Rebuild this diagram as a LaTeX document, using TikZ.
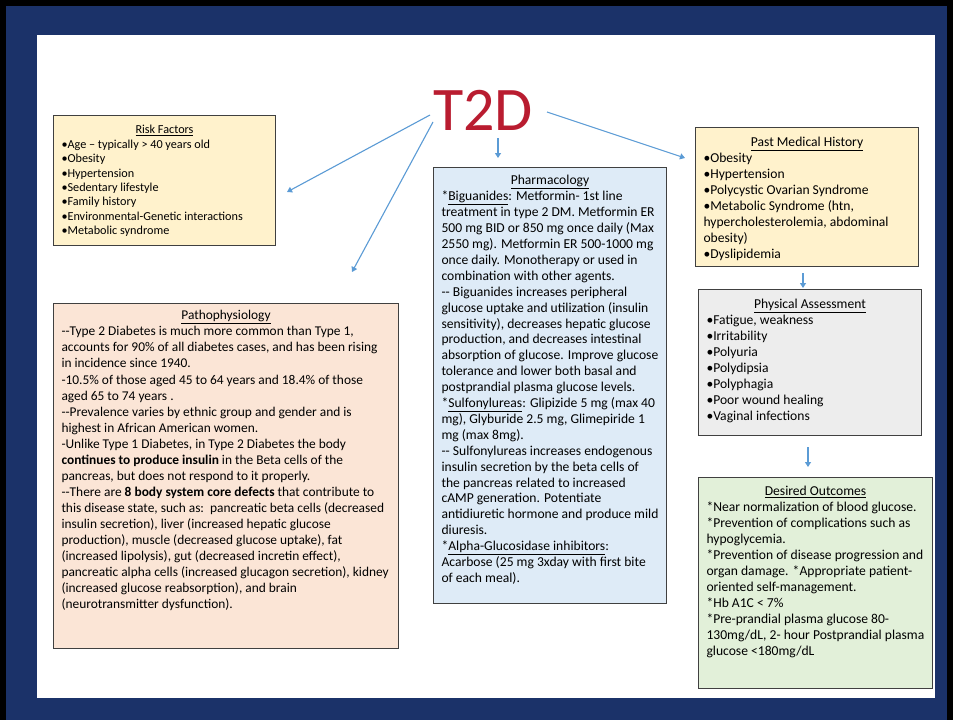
\documentclass[tikz,border=0pt]{standalone}
\usepackage{fontspec}
\setmainfont{Carlito}
\usetikzlibrary{arrows.meta}
\definecolor{navy}{RGB}{27,50,105}
\definecolor{titlered}{RGB}{185,28,48}
\definecolor{arrblue}{RGB}{91,155,213}
\definecolor{fillyellow}{RGB}{255,242,204}
\definecolor{fillorange}{RGB}{251,229,214}
\definecolor{fillblue}{RGB}{222,235,247}
\definecolor{fillgray}{RGB}{237,237,237}
\definecolor{fillgreen}{RGB}{226,240,217}
\tikzset{
  infobox/.style={draw=black!75, line width=1pt, anchor=north west, inner xsep=8pt, inner ysep=8pt, align=left},
  arr/.style={draw=arrblue, line width=1.1pt, -{Triangle[width=6pt,length=5pt]}}
}
\newcommand{\ttl}[1]{\centerline{\underline{#1}}}
\begin{document}
\begin{tikzpicture}[x=1pt,y=-1pt]
\useasboundingbox (0,0) rectangle (953,720);
\fill[black] (0,0) rectangle (953,720);
\fill[navy] (6,6) rectangle (947,720);
\fill[white] (37,35) rectangle (935,698);

\node[text=titlered, font=\fontsize{62}{62}\selectfont] (t2d) at (483,110) {T2D};

\node[infobox, fill=fillyellow, inner ysep=10pt] (risk) at (53,115) {\parbox[t][110pt][t]{206pt}{\fontsize{12.2}{14.4}\selectfont\raggedright
\ttl{Risk Factors}
•Age – typically > 40 years old\\
•Obesity\\
•Hypertension\\
•Sedentary lifestyle\\
•Family history\\
•Environmental-Genetic interactions\\
•Metabolic syndrome}};

\node[infobox, fill=fillorange, inner ysep=7pt] (patho) at (53,303) {\parbox[t][331pt][t]{329pt}{\fontsize{13.4}{16.05}\selectfont\raggedright
\ttl{Pathophysiology}
-{}-Type 2 Diabetes is much more common than Type 1,\\
accounts for 90\% of all diabetes cases, and has been rising\\
in incidence since 1940.\\
-10.5\% of those aged 45 to 64 years and 18.4\% of those\\
aged 65 to 74 years .\\
-{}-Prevalence varies by ethnic group and gender and is\\
highest in African American women.\\
-Unlike Type 1 Diabetes, in Type 2 Diabetes the body\\
\textbf{continues to produce insulin} in the Beta cells of the\\
pancreas, but does not respond to it properly.\\
-{}-There are \textbf{8 body system core defects} that contribute to\\
\mbox{this disease state, such as:\ \ pancreatic beta cells (decreased}\\
insulin secretion), liver (increased hepatic glucose\\
production), muscle (decreased glucose uptake), fat\\
(increased lipolysis), gut (decreased incretin effect),\\
\mbox{pancreatic alpha cells (increased glucagon secretion), kidney}\\
(increased glucose reabsorption), and brain\\
(neurotransmitter dysfunction).}};

\node[infobox, fill=fillblue, inner ysep=8pt] (pharm) at (433,167) {\parbox[t][420pt][t]{217pt}{\fontsize{13.6}{15.9}\selectfont\raggedright
\ttl{Pharmacology}
*\underline{Biguanides}: Metformin- 1st line\\
treatment in type 2 DM. Metformin ER\\
500 mg BID or 850 mg once daily (Max\\
2550 mg). Metformin ER 500-1000 mg\\
once daily. Monotherapy or used in\\
combination with other agents.\\
-{}- Biguanides increases peripheral\\
glucose uptake and utilization (insulin\\
sensitivity), decreases hepatic glucose\\
production, and decreases intestinal\\
absorption of glucose. Improve glucose\\
tolerance and lower both basal and\\
postprandial plasma glucose levels.\\{}
*\underline{Sulfonylureas}: Glipizide 5 mg (max 40\\
mg), Glyburide 2.5 mg, Glimepiride 1\\
mg (max 8mg).\\
-{}- Sulfonylureas increases endogenous\\
insulin secretion by the beta cells of\\
the pancreas related to increased\\
cAMP generation. Potentiate\\
antidiuretic hormone and produce mild\\
diuresis.\\{}
*\underline{Alpha-Glucosidase inhibitors}:\\
Acarbose (25 mg 3xday with first bite\\
of each meal).}};

\node[infobox, fill=fillyellow, inner ysep=10pt] (pmh) at (695,127) {\parbox[t][119pt][t]{207pt}{\fontsize{13.6}{16}\selectfont\raggedright
\ttl{Past Medical History}
•Obesity\\
•Hypertension\\
•Polycystic Ovarian Syndrome\\
•Metabolic Syndrome (htn,\\
hypercholesterolemia, abdominal\\
obesity)\\
•Dyslipidemia}};

\node[infobox, fill=fillgray, inner ysep=10pt] (pa) at (698,289) {\parbox[t][126pt][t]{207pt}{\fontsize{13.6}{16}\selectfont\raggedright
\ttl{Physical Assessment}
•Fatigue, weakness\\
•Irritability\\
•Polyuria\\
•Polydipsia\\
•Polyphagia\\
•Poor wound healing\\
•Vaginal infections}};

\node[infobox, fill=fillgreen, inner ysep=8.5pt] (do) at (698,477) {\parbox[t][194pt][t]{218pt}{\fontsize{13.6}{16}\selectfont\raggedright
\ttl{Desired Outcomes}
*Near normalization of blood glucose.\\{}
*Prevention of complications such as\\
hypoglycemia.\\{}
*Prevention of disease progression and\\
organ damage. *Appropriate patient-\\
oriented self-management.\\{}
*Hb A1C < 7\%\\{}
*Pre-prandial plasma glucose 80-\\
130mg/dL, 2- hour Postprandial plasma\\
glucose <180mg/dL}};

\coordinate (a1s) at (430,115);
\coordinate (a1e) at (287,192);
\coordinate (a2s) at (433,122);
\coordinate (a2e) at (352,272);
\coordinate (a3s) at (498,138);
\coordinate (a3e) at (498,158);
\coordinate (a4s) at (547,112);
\coordinate (a4e) at (685,158);
\coordinate (a5s) at (803,273);
\coordinate (a5e) at (803,288);
\coordinate (a6s) at (808,447);
\coordinate (a6e) at (808,467);
\draw[arr] (a1s) -- (a1e);
\draw[arr] (a2s) -- (a2e);
\draw[arr] (a3s) -- (a3e);
\draw[arr] (a4s) -- (a4e);
\draw[arr] (a5s) -- (a5e);
\draw[arr] (a6s) -- (a6e);
\end{tikzpicture}
\end{document}
